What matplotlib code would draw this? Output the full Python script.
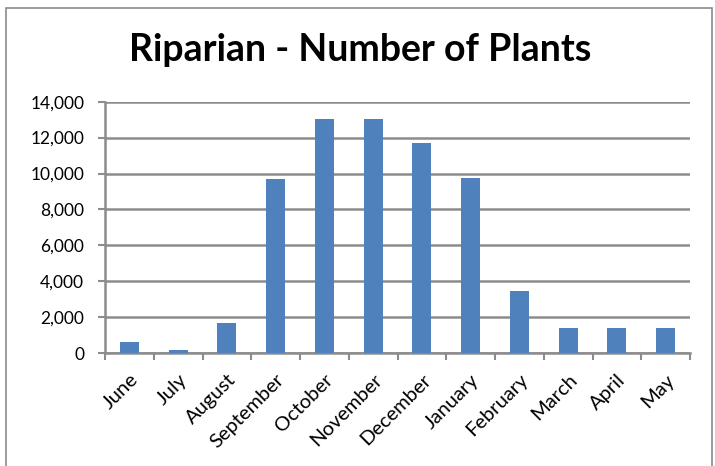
import matplotlib
matplotlib.use('Agg')
import matplotlib.pyplot as plt
from matplotlib.patches import Rectangle
from matplotlib.ticker import FuncFormatter, MultipleLocator
import numpy as np

# ── Data ────────────────────────────────────────────────────────────────────
months = ['June', 'July', 'August', 'September', 'October', 'November',
          'December', 'January', 'February', 'March', 'April', 'May']
plants = [600, 150, 1670, 9680, 13040, 13040,
          11690, 9740, 3470, 1390, 1390, 1390]

BAR_COLOR = '#4f81bd'
GRID_COLOR = '#8c8c8c'

plt.rcParams['font.family'] = ['Lato', 'DejaVu Sans']

fig = plt.figure(figsize=(7.15, 4.66), dpi=100)
W, H = 715, 466

# outer chart border (bottom edge runs off the picture)
fig.patches.append(Rectangle((6 / W, -0.05), (712 - 6) / W, 1.05 - 8 / H,
                             transform=fig.transFigure, fill=False,
                             edgecolor='#8a8a8a', lw=1.2))

ax = fig.add_axes([105 / W, (H - 353) / H, (690 - 105) / W, (353 - 101.7) / H])

x = np.arange(len(months))
ax.bar(x, plants, width=0.39, color=BAR_COLOR, zorder=3)

ax.set_xlim(-0.5, len(months) - 0.5)
ax.set_ylim(0, 14000)
ax.yaxis.set_major_locator(MultipleLocator(2000))
ax.yaxis.set_major_formatter(FuncFormatter(lambda v, p: f'{int(v):,}'))
ax.grid(axis='y', color=GRID_COLOR, lw=1.8, zorder=0)

ax.set_xticks(x)
ax.set_xticklabels(months, rotation=45, ha='right', rotation_mode='anchor',
                   fontsize=14.5)
ax.set_xticks(np.arange(-0.5, len(months)), minor=True)
ax.tick_params(axis='x', which='major', length=0, pad=13)
ax.tick_params(axis='x', which='minor', length=5, color=GRID_COLOR, width=1.5)
ax.tick_params(axis='y', length=5, color=GRID_COLOR, width=1.5, labelsize=12.5,
               pad=10)

for s in ['top', 'right']:
    ax.spines[s].set_visible(False)
for s in ['left', 'bottom']:
    ax.spines[s].set_color(GRID_COLOR)
    ax.spines[s].set_linewidth(1.8)

fig.text(360 / W, 1 - 50 / H, 'Riparian - Number of Plants', ha='center',
         va='center', fontsize=27, fontweight='bold')

plt.savefig('out.png', dpi=100)
plt.close()
